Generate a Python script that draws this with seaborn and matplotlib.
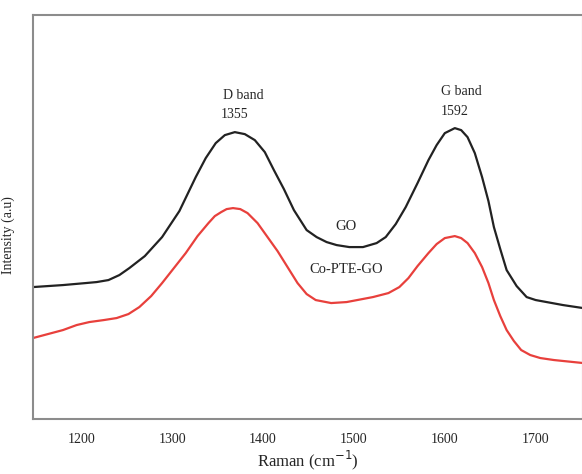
import matplotlib
matplotlib.use("Agg")
import matplotlib.pyplot as plt
import pandas as pd
import seaborn as sns

# GO spectrum (Raman shift, intensity a.u.)
go_shift = [1147, 1180, 1205, 1217, 1230, 1242, 1253, 1270, 1289, 1308, 1326,
            1337, 1348, 1358, 1369, 1380, 1391, 1402, 1412, 1423, 1434, 1441,
            1448, 1459, 1470, 1481, 1495, 1510, 1525, 1535, 1546, 1557, 1570,
            1582, 1591, 1600, 1611, 1618, 1625, 1633, 1641, 1648, 1654, 1661,
            1668, 1679, 1690, 1700, 1712, 1730, 1752]
go_int = [132, 134, 136, 137, 139, 144, 151, 163, 182, 208, 242,
          261, 276, 284, 287, 285, 279, 267, 249, 230, 209, 199,
          189, 182, 177, 174, 172, 172, 176, 182, 195, 212, 236,
          259, 274, 286, 291, 289, 282, 266, 242, 218, 192, 170,
          149, 133, 122, 119, 117, 114, 111]

# Co-PTE-GO spectrum
co_shift = [1147, 1180, 1195, 1209, 1225, 1239, 1252, 1264, 1277, 1289, 1302,
            1315, 1328, 1340, 1347, 1354, 1360, 1367, 1375, 1383, 1394, 1405,
            1416, 1427, 1438, 1448, 1458, 1475, 1492, 1521, 1538, 1550, 1560,
            1570, 1582, 1591, 1600, 1611, 1618, 1625, 1633, 1641, 1648, 1654,
            1661, 1668, 1676, 1684, 1694, 1705, 1720, 1752]
co_int = [81, 89, 94, 97, 99, 101, 105, 112, 123, 136, 151,
          166, 183, 196, 203, 207, 210, 211, 210, 206, 196, 182,
          168, 152, 136, 125, 119, 116, 117, 122, 126, 132, 141,
          153, 166, 175, 181, 183, 181, 176, 166, 152, 136, 119,
          103, 89, 78, 69, 64, 61, 59, 56]

xticks = [1200, 1300, 1400, 1500, 1600, 1700]

df_go = pd.DataFrame({"shift": go_shift, "intensity": go_int})
df_co = pd.DataFrame({"shift": co_shift, "intensity": co_int})

sns.set_style("white")
plt.rcParams["font.family"] = ["Liberation Serif", "DejaVu Serif"]

fig = plt.figure(figsize=(5.82, 4.74), dpi=100)
ax = fig.add_axes([0.0567, 0.116, 0.945, 0.852])

sns.lineplot(data=df_go, x="shift", y="intensity", color="#222222", lw=1.6, ax=ax)
sns.lineplot(data=df_co, x="shift", y="intensity", color="#e8403c", lw=1.6, ax=ax)

ax.set_xlim(1147, 1752)
ax.set_ylim(0, 404)
ax.set_xticks(xticks)
ax.set_yticks([])
ax.tick_params(axis="x", direction="out", length=4, width=1, color="#888888",
               labelsize=10, pad=6)
for s in ax.spines.values():
    s.set_color("#8c8c8c")
    s.set_linewidth(1.5)

ax.set_xlabel("Raman (cm$^{-1}$)", fontsize=12, labelpad=2)
ax.set_ylabel("Intensity (a.u)", fontsize=10)
ax.yaxis.set_label_coords(-0.033, 0.455)

ax.text(1378, 324, "D band", ha="center", va="center", fontsize=10)
ax.text(1369, 305, "1355", ha="center", va="center", fontsize=10)
ax.text(1618, 328, "G band", ha="center", va="center", fontsize=10)
ax.text(1611, 308, "1592", ha="center", va="center", fontsize=10)
ax.text(1491, 193, "GO", ha="center", va="center", fontsize=10.5)
ax.text(1491, 150, "Co-PTE-GO", ha="center", va="center", fontsize=10.5)

fig.savefig("out.png", dpi=100)
